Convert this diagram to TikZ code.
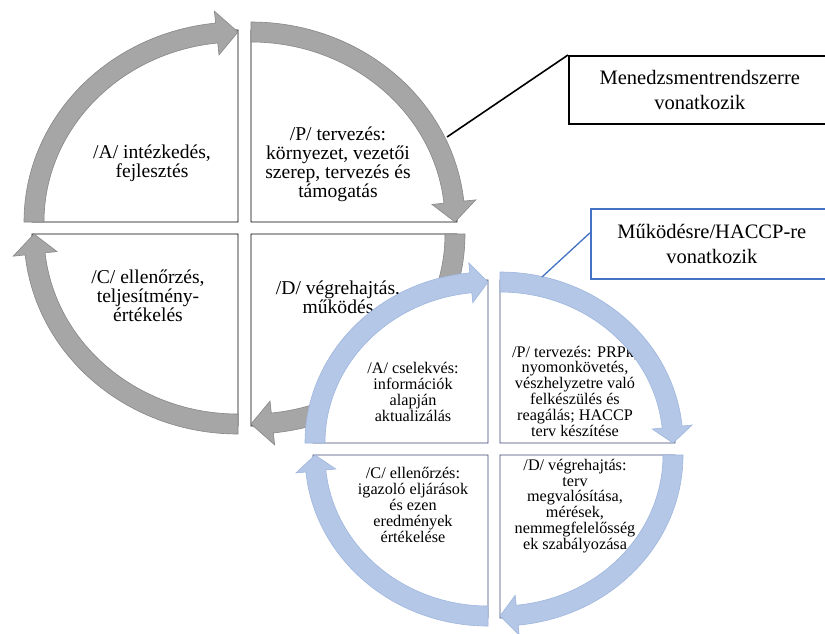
\documentclass[tikz,border=0pt]{standalone}
\usepackage{fontspec}
\setmainfont{Liberation Serif}
\usetikzlibrary{calc}
\definecolor{grayfill}{RGB}{166,166,166}
\definecolor{grayedge}{RGB}{135,135,135}
\definecolor{bluefill}{RGB}{180,199,231}
\definecolor{blueedge}{RGB}{158,182,222}
\definecolor{navyq}{RGB}{60,70,115}
\definecolor{calloutblue}{RGB}{68,114,196}

% arrow along an elliptical arc: #1 style, #2 centre, #3 start angle, #4 end angle
\newcommand\cycarrow[4]{%
  \pgfmathsetmacro\mythb{#4+\mydl}%
  \pgfmathsetmacro\myxo{\myxm+\myw}\pgfmathsetmacro\myyo{\myym+\myw}%
  \pgfmathsetmacro\myxi{\myxm-\myw}\pgfmathsetmacro\myyi{\myym-\myw}%
  \pgfmathsetmacro\myhxo{\myxm+\myh}\pgfmathsetmacro\myhyo{\myym+\myh}%
  \pgfmathsetmacro\myhxi{\myxm-\myh}\pgfmathsetmacro\myhyi{\myym-\myh}%
  \path[#1] ($(#2)+(#3:\myxo pt and \myyo pt)$)
    arc[start angle=#3, end angle=\mythb, x radius=\myxo pt, y radius=\myyo pt]
    -- ($(#2)+(\mythb:\myhxo pt and \myhyo pt)$)
    -- ($(#2)+(#4:\myxm pt and \myym pt)$)
    -- ($(#2)+(\mythb:\myhxi pt and \myhyi pt)$)
    -- ($(#2)+(\mythb:\myxi pt and \myyi pt)$)
    arc[start angle=\mythb, end angle=#3, x radius=\myxi pt, y radius=\myyi pt]
    -- cycle;
}
% quarter wedge: #1 style, #2 corner, #3 start, #4 end, #5 rx, #6 ry
\newcommand\cycwedge[6]{%
  \path[#1] (#2) -- ($(#2)+(#3:#5pt and #6pt)$)
    arc[start angle=#3, end angle=#4, x radius=#5pt, y radius=#6pt] -- cycle;
}

\tikzset{
  bigtxt/.style={align=center, inner sep=0pt, font=\fontsize{19.6}{19}\selectfont},
  smalltxt/.style={align=center, inner sep=0pt, font=\fontsize{16.2}{15.8}\selectfont},
  calltxt/.style={align=center, font=\fontsize{20.5}{25}\selectfont},
  gquad/.style={fill=white, draw=black, line width=0.9pt},
  bquad/.style={fill=white, draw=navyq, line width=0.9pt},
  garrow/.style={fill=grayfill, draw=grayedge, line width=0.6pt},
  barrow/.style={fill=bluefill, draw=blueedge, line width=0.6pt},
}

\begin{document}
\begin{tikzpicture}[x=1pt,y=1pt]
\useasboundingbox (0,0) rectangle (825,-633);
\clip (0,0) rectangle (825,-633);
\fill[white] (0,0) rectangle (825,-633);

% ---------- big (grey) cycle ----------
\coordinate (gTL) at (238,-222);
\coordinate (gTR) at (251,-222);
\coordinate (gBR) at (251,-234);
\coordinate (gBL) at (238,-234);
\cycwedge{gquad}{gTL}{180}{90}{206}{192}
\cycwedge{gquad}{gTR}{90}{0}{206}{192}
\cycwedge{gquad}{gBR}{0}{-90}{206}{192}
\cycwedge{gquad}{gBL}{-90}{-180}{206}{192}

\node[bigtxt] (tA) at (152,-163) {/A/ intézkedés,\\fejlesztés};
\node[bigtxt] (tP) at (338,-164) {/P/ tervezés:\\környezet, vezetői\\szerep, tervezés és\\támogatás};
\node[bigtxt] (tC) at (148,-296) {/C/ ellenőrzés,\\teljesítmény-\\értékelés};
\node[bigtxt] (tD) at (338,-297) {/D/ végrehajtás,\\működés};

\def\myxm{204}\def\myym{190}\def\myw{10}\def\myh{22}\def\mydl{6}
\cycarrow{garrow}{gTL}{180}{90}
\cycarrow{garrow}{gTR}{90}{0}
\cycarrow{garrow}{gBR}{0}{-90}
\cycarrow{garrow}{gBL}{-90}{-180}

\coordinate (pBig) at (447,-137);
\node[draw=black, line width=1.6pt, minimum width=262pt, minimum height=68pt,
      anchor=north west, calltxt] (boxM) at (568,-55) {Menedzsmentrendszerre\\vonatkozik};
\draw[black, line width=1.6pt] (boxM.north west) -- (pBig);

% ---------- small (blue) cycle ----------
\coordinate (bTL) at (488,-443);
\coordinate (bTR) at (500,-443);
\coordinate (bBR) at (500,-455);
\coordinate (bBL) at (488,-455);
\cycwedge{bquad}{bTL}{180}{90}{175}{163}
\cycwedge{bquad}{bTR}{90}{0}{175}{163}
\cycwedge{bquad}{bBR}{0}{-90}{175}{163}
\cycwedge{bquad}{bBL}{-90}{-180}{175}{163}

\node[smalltxt] (sA) at (413,-392) {/A/ cselekvés:\\információk\\alapján\\aktualizálás};
\node[smalltxt] (sP) at (575,-391) {/P/ tervezés: PRPk,\\nyomonkövetés,\\vészhelyzetre való\\felkészülés és\\reagálás; HACCP\\terv készítése};
\node[smalltxt] (sC) at (413,-505) {/C/ ellenőrzés:\\igazoló eljárások\\és ezen\\eredmények\\értékelése};
\node[smalltxt] (sD) at (575,-506) {/D/ végrehajtás:\\terv\\megvalósítása,\\mérések,\\nemmegfelelősség\\ek szabályozása};

\def\myxm{173}\def\myym{161}\def\myw{10}\def\myh{20}\def\mydl{5.7}
\cycarrow{barrow}{bTL}{180}{90}
\cycarrow{barrow}{bTR}{90}{0}
\cycarrow{barrow}{bBR}{0}{-90}
\cycarrow{barrow}{bBL}{-90}{-180}

\coordinate (pSmall) at (542,-277);
\node[draw=calloutblue, line width=1.6pt, minimum width=242pt, minimum height=70pt,
      anchor=north west, calltxt] (boxH) at (590,-208) {Működésre/HACCP-re\\vonatkozik};
\draw[calloutblue, line width=1.3pt] ([yshift=11pt]boxH.west) -- (pSmall);
\end{tikzpicture}
\end{document}
